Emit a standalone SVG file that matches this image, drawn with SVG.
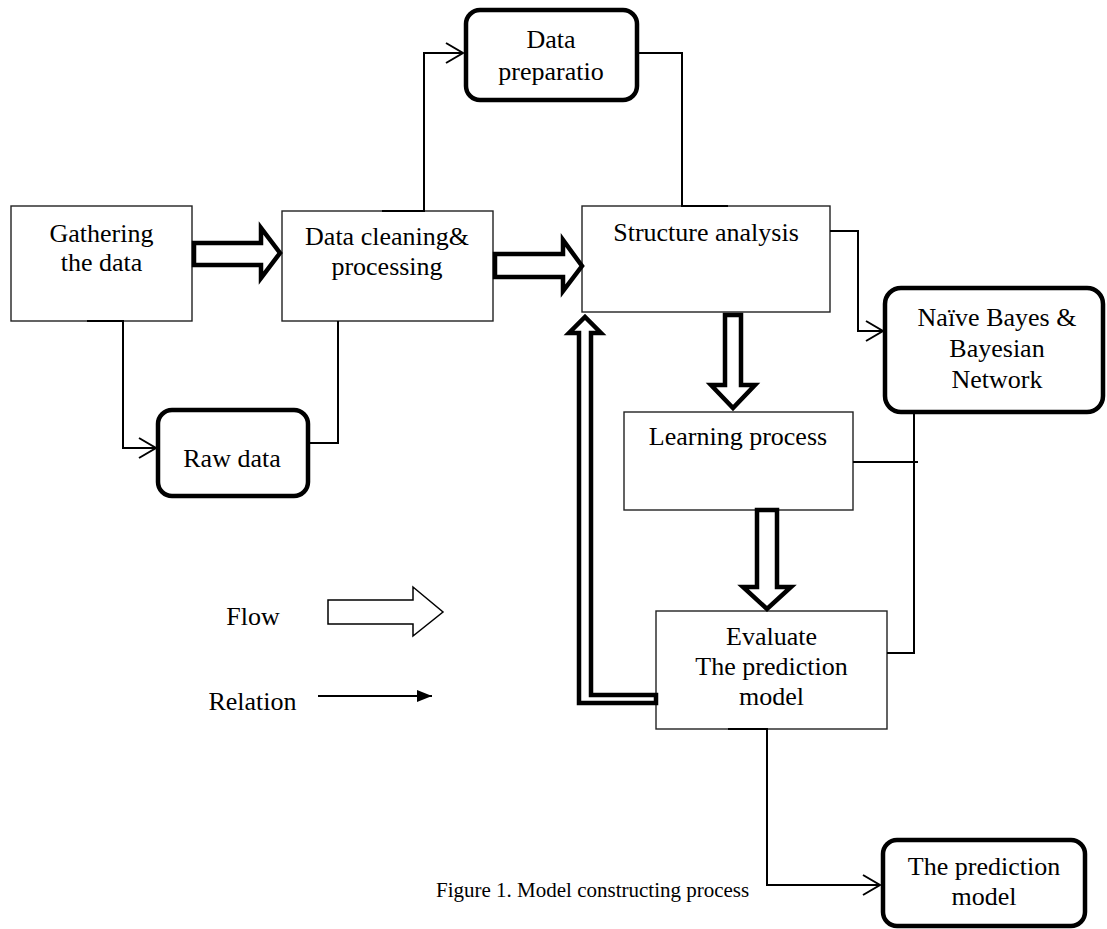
<svg xmlns="http://www.w3.org/2000/svg" width="1107" height="929" viewBox="0 0 1107 929">
<style>
text{font-family:"Liberation Serif","Times New Roman",serif;font-size:26px;fill:#000;text-anchor:middle}
.box{fill:#fff;stroke:#222;stroke-width:1.4}
.rbox{fill:#fff;stroke:#000;stroke-width:4.5}
.rel{fill:none;stroke:#000;stroke-width:2}
.flow{fill:#fff;stroke:#000;stroke-width:4.5;stroke-linejoin:miter}
</style>
<defs>
<marker id="chev" markerWidth="20" markerHeight="24" refX="18" refY="12" orient="auto" markerUnits="userSpaceOnUse">
<path d="M1,2 L18,12 L1,22" fill="none" stroke="#000" stroke-width="2"/>
</marker>
<marker id="tri" markerWidth="16" markerHeight="12" refX="15" refY="6" orient="auto" markerUnits="userSpaceOnUse">
<path d="M0,0 L15,6 L0,12 z" fill="#000"/>
</marker>
</defs>

<g id="gathering"><rect class="box" x="11" y="206" width="181" height="115"/><text x="101.5" y="242">Gathering</text><text x="101.5" y="271">the data</text></g>
<g id="cleaning"><rect class="box" x="282" y="211" width="211" height="110"/><text x="387" y="245">Data cleaning&amp;</text><text x="387" y="275">processing</text></g>
<g id="preparation"><rect class="rbox" x="466" y="10" width="171" height="90" rx="14"/><text x="551" y="48">Data</text><text x="551" y="80">preparatio</text></g>
<g id="structure"><rect class="box" x="582" y="206" width="248" height="106"/><text x="706" y="241">Structure analysis</text></g>
<g id="naive"><rect class="rbox" x="885" y="288" width="218" height="124" rx="16"/><text x="997" y="326">Naïve Bayes &amp;</text><text x="997" y="357">Bayesian</text><text x="997" y="388">Network</text></g>
<g id="rawdata"><rect class="rbox" x="158" y="410" width="150" height="86" rx="14"/><text x="232" y="467">Raw data</text></g>
<g id="learning"><rect class="box" x="624" y="412" width="229" height="98"/><text x="738" y="445">Learning process</text></g>
<g id="evaluate"><rect class="box" x="656" y="611" width="231" height="118"/><text x="771.5" y="645">Evaluate</text><text x="771.5" y="675">The prediction</text><text x="771.5" y="705">model</text></g>
<g id="prediction"><rect class="rbox" x="883" y="840" width="202" height="86" rx="14"/><text x="984" y="875">The prediction</text><text x="984" y="905">model</text></g>

<g id="connectors">
<path class="rel" d="M87,321 H123 V448 H156" marker-end="url(#chev)"/>
<path class="rel" d="M338,321 V443 H308"/>
<path class="rel" d="M382,211 H424 V53 H463" marker-end="url(#chev)"/>
<path class="rel" d="M637,53 H682 V206 H728"/>
<path class="rel" d="M830,231 H858 V331 H883" marker-end="url(#chev)"/>
<path class="rel" d="M853,462 H918"/>
<path class="rel" d="M914,412 V653 H887"/>
<path class="rel" d="M728,729 H767 V885 H880" marker-end="url(#chev)"/>
<polygon class="flow" points="194,243 261,243 261,228 280,253 261,278 261,265 194,265"/>
<polygon class="flow" points="495,254 563,254 563,240 582,266 563,291 563,277 495,277"/>
<polygon class="flow" points="725,315 741,315 741,385 755,385 733,408 711,385 725,385"/>
<polygon class="flow" points="757,510 777,510 777,587 791,587 767,609 743,587 757,587"/>
<polygon class="flow" points="656,703 579,703 579,333 569,333 585,317 601,333 591,333 591,695 656,695"/>
</g>

<g id="legend">
<text x="253" y="625">Flow</text>
<polygon points="328,600 413,600 413,587 443,612 413,636 413,624 328,624" fill="#fff" stroke="#000" stroke-width="1.5"/>
<text x="252.5" y="710">Relation</text>
<line x1="318" y1="696" x2="432" y2="696" stroke="#000" stroke-width="2" marker-end="url(#tri)"/>
</g>
<text x="436" y="897" style="font-size:21px;text-anchor:start">Figure 1. Model constructing process</text>
</svg>
